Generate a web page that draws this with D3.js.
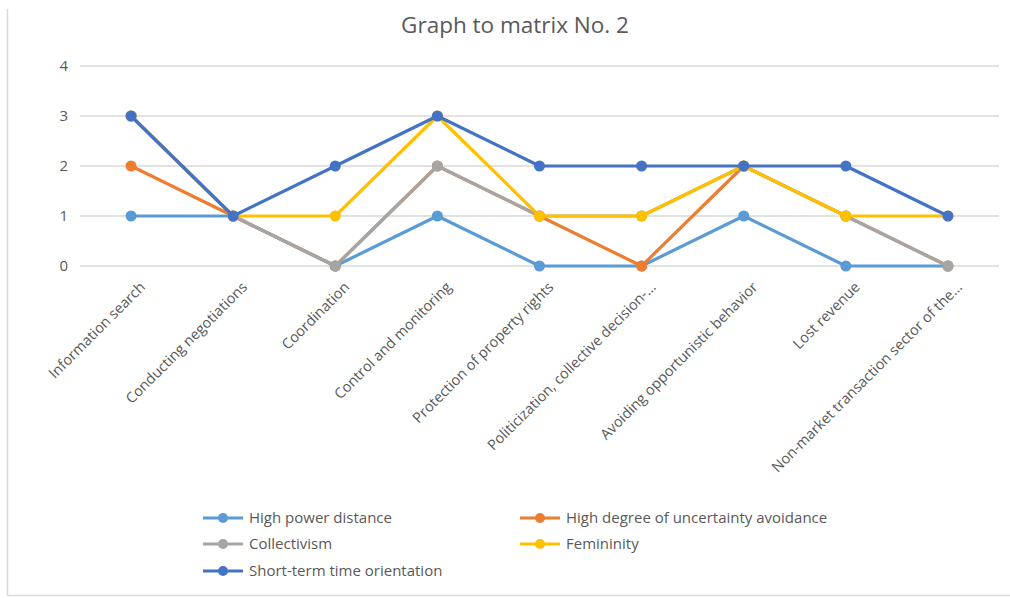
<!DOCTYPE html>
<html>
<head>
<meta charset="utf-8">
<script src="https://cdn.jsdelivr.net/npm/d3@7"></script>
<style>
  body { margin: 0; background: #fff; }
  svg { font-family: 'Open Sans', sans-serif; }
</style>
</head>
<body>
<div id="chart"></div>
<script>
// line chart: Graph to matrix No. 2

const categories = ['Information search', 'Conducting negotiations', 'Coordination',
  'Control and monitoring', 'Protection of property rights', 'Politicization, collective decision-…',
  'Avoiding opportunistic behavior', 'Lost revenue', 'Non-market transaction sector of the…'];

const seriesNames = ['High power distance', 'High degree of uncertainty avoidance',
  'Collectivism', 'Femininity', 'Short-term time orientation'];

const powerDistance = [1, 1, 0, 1, 0, 0, 1, 0, 0];
const uncertaintyAvoidance = [2, 1, 0, 2, 1, 0, 2, 1, 0];
const collectivism = [3, 1, 0, 2, 1, 1, 2, 1, 0];
const femininity = [3, 1, 1, 3, 1, 1, 2, 1, 1];
const shortTerm = [3, 1, 2, 3, 2, 2, 2, 2, 1];

const yTicks = [0, 1, 2, 3, 4];
const colors = ['#5b9bd5', '#ed7d31', '#a5a5a5', '#ffc000', '#4472c4'];

const allSeries = [powerDistance, uncertaintyAvoidance, collectivism, femininity, shortTerm];

const WIDTH = 1010, HEIGHT = 598;
const PLOT = {left: 80, right: 999, top: 66, bottom: 266};

const svg = d3.select('#chart').append('svg')
  .attr('width', WIDTH)
  .attr('height', HEIGHT);

// chart border (left + bottom visible)
svg.append('path')
  .attr('d', 'M7.5,9 V595.5 H1010')
  .attr('fill', 'none')
  .attr('stroke', '#d9d9d9')
  .attr('stroke-width', 1.5);

svg.append('text')
  .attr('x', 515)
  .attr('y', 33)
  .attr('text-anchor', 'middle')
  .attr('font-size', 22.5)
  .attr('fill', '#595959')
  .text('Graph to matrix No. 2');

const x = d3.scaleBand()
  .domain(categories)
  .range([PLOT.left, PLOT.right]);

const y = d3.scaleLinear()
  .domain([0, 4])
  .range([PLOT.bottom, PLOT.top]);

// gridlines
svg.append('g')
  .selectAll('line')
  .data(yTicks)
  .enter()
  .append('line')
    .attr('x1', PLOT.left)
    .attr('x2', PLOT.right)
    .attr('y1', d => y(d))
    .attr('y2', d => y(d))
    .attr('stroke', '#d9d9d9')
    .attr('stroke-width', 1.3);

// y axis labels
const yAxis = svg.append('g')
  .attr('transform', 'translate(' + (PLOT.left - 12) + ',0)')
  .call(d3.axisLeft(y).tickValues(yTicks).tickSize(0).tickPadding(0).tickFormat(d3.format('d')));
yAxis.select('.domain').remove();
yAxis.selectAll('text')
  .attr('font-size', 15)
  .attr('font-family', "'Open Sans', sans-serif")
  .attr('fill', '#595959');

// x axis labels, rotated
const xAxis = svg.append('g')
  .attr('transform', 'translate(0,' + PLOT.bottom + ')')
  .call(d3.axisBottom(x).tickSize(0).tickPadding(0));
xAxis.select('.domain').remove();
xAxis.selectAll('text')
  .attr('font-size', 14.5)
  .attr('font-family', "'Open Sans', sans-serif")
  .attr('fill', '#595959')
  .attr('text-anchor', 'end')
  .attr('dy', 0)
  .attr('transform', 'translate(15,22) rotate(-45)');

const line = d3.line()
  .x((d, i) => x(categories[i]) + x.bandwidth() / 2)
  .y(d => y(d));

allSeries.forEach((vals, s) => {
  const g = svg.append('g');
  g.append('path')
    .datum(vals)
    .attr('d', line)
    .attr('fill', 'none')
    .attr('stroke', colors[s])
    .attr('stroke-width', 3.2)
    .attr('stroke-linejoin', 'round');
  g.selectAll('circle')
    .data(vals)
    .enter()
    .append('circle')
      .attr('cx', (d, i) => x(categories[i]) + x.bandwidth() / 2)
      .attr('cy', d => y(d))
      .attr('r', 5.5)
      .attr('fill', colors[s]);
});

// legend
const legendPos = [[203, 518], [520, 518], [203, 544], [520, 544], [203, 571]];
const legend = svg.append('g');
seriesNames.forEach((name, s) => {
  const [lx, ly] = legendPos[s];
  const item = legend.append('g').attr('transform', 'translate(' + lx + ',' + ly + ')');
  item.append('line')
    .attr('x1', 0).attr('x2', 40)
    .attr('stroke', colors[s])
    .attr('stroke-width', 3.2);
  item.append('circle')
    .attr('cx', 20).attr('r', 5)
    .attr('fill', colors[s]);
  item.append('text')
    .attr('x', 46)
    .attr('dy', '0.35em')
    .attr('font-size', 15)
    .attr('fill', '#595959')
    .text(name);
});
</script>
</body>
</html>
